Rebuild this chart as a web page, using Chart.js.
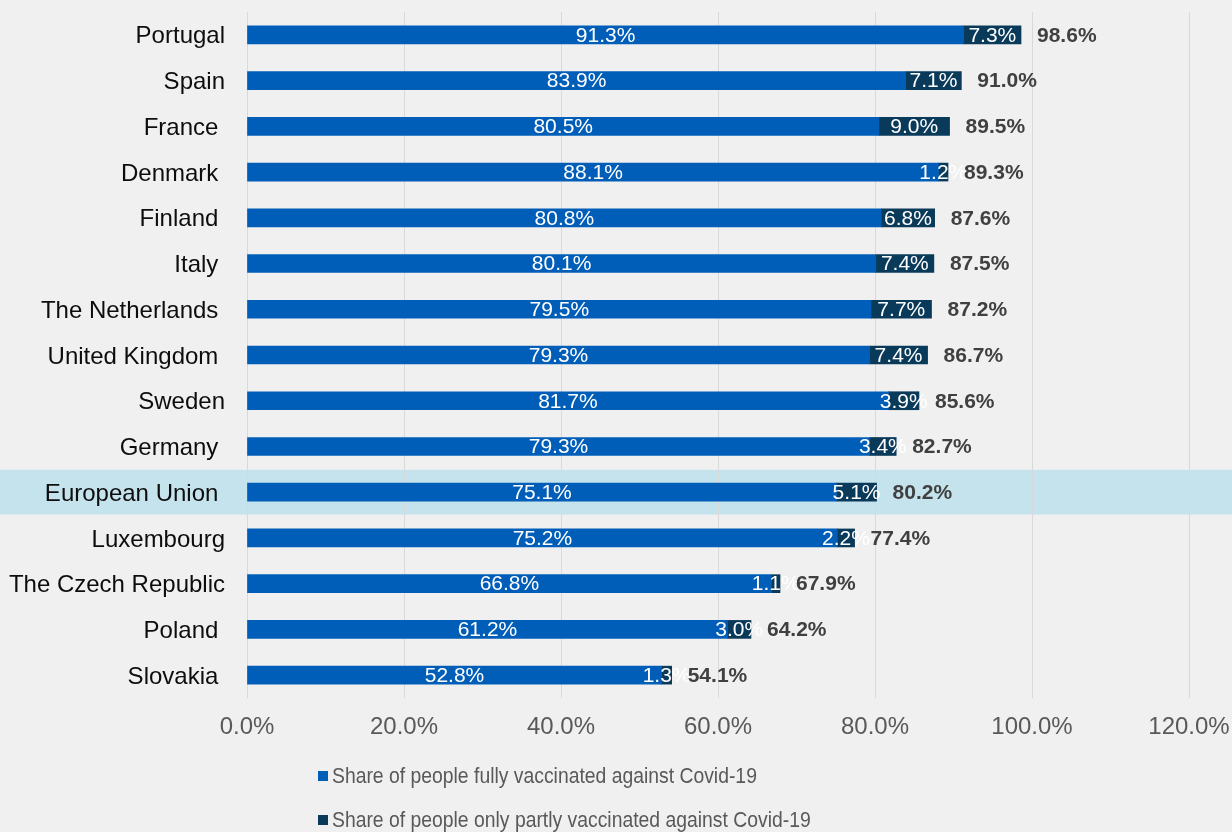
<!DOCTYPE html>
<html lang="en">
<head>
    <meta charset="UTF-8">
    <title>Covid-19 vaccination share</title>
    <script src="https://cdn.jsdelivr.net/npm/chart.js"></script>
    <style>
        body { margin: 0; padding: 0; background: #f0f0f0; }
        #wrap { width: 1232px; height: 832px; }
    </style>
</head>
<body>
    <div id="wrap"><canvas id="chart" width="1232" height="832"></canvas></div>

    <script>
        // countries (a trailing space keeps the original label spacing)
        const countries = ['Portugal', 'Spain', 'France ', 'Denmark ', 'Finland ', 'Italy ', 'The Netherlands ',
            'United Kingdom ', 'Sweden', 'Germany ', 'European Union ', 'Luxembourg', 'The Czech Republic', 'Poland ', 'Slovakia '];
        const fullyVaccinated = [91.3, 83.9, 80.5, 88.1, 80.8, 80.1, 79.5, 79.3, 81.7, 79.3, 75.1, 75.2, 66.8, 61.2, 52.8];
        const partlyVaccinated = [7.3, 7.1, 9.0, 1.2, 6.8, 7.4, 7.7, 7.4, 3.9, 3.4, 5.1, 2.2, 1.1, 3.0, 1.3];
        const xTicks = [0, 20, 40, 60, 80, 100, 120];
        const highlighted = 'European Union ';

        const seriesNames = ['Share of people fully vaccinated against Covid-19',
            'Share of people only partly vaccinated against Covid-19'];
        const colorFull = '#005eb8';
        const colorPartly = '#0a3a5a';

        const pct = v => v.toFixed(1) + '%';

        // background + highlight band, painted before grid lines
        const backdrop = {
            id: 'backdrop',
            beforeDraw(chart) {
                const ctx = chart.ctx;
                ctx.save();
                ctx.fillStyle = '#f0f0f0';
                ctx.fillRect(0, 0, chart.width, chart.height);
                const y = chart.scales.y;
                const i = countries.indexOf(highlighted);
                const cy = y.getPixelForValue(i);
                const band = y.height / countries.length;
                ctx.fillStyle = '#c5e3ed';
                ctx.fillRect(0, cy - band / 2 + 0.5, chart.width, band - 1);
                ctx.restore();
            }
        };

        // value labels inside segments and totals after the bars
        const barLabels = {
            id: 'barLabels',
            afterDatasetsDraw(chart) {
                const ctx = chart.ctx;
                ctx.save();
                ctx.textBaseline = 'middle';
                chart.data.datasets.forEach((ds, di) => {
                    const meta = chart.getDatasetMeta(di);
                    ctx.font = '21px "Liberation Sans", Arial, sans-serif';
                    ctx.fillStyle = '#ffffff';
                    ctx.textAlign = 'center';
                    meta.data.forEach((bar, i) => {
                        ctx.fillText(pct(ds.data[i]), (bar.x + bar.base) / 2, bar.y + 1);
                    });
                });
                const last = chart.getDatasetMeta(chart.data.datasets.length - 1);
                ctx.font = 'bold 21px "Liberation Sans", Arial, sans-serif';
                ctx.fillStyle = '#404040';
                ctx.textAlign = 'left';
                last.data.forEach((bar, i) => {
                    const total = fullyVaccinated[i] + partlyVaccinated[i];
                    ctx.fillText(pct(total), bar.x + 16, bar.y + 1);
                });
                ctx.restore();
            }
        };

        // two-row legend under the axis
        const stackedLegend = {
            id: 'stackedLegend',
            afterDraw(chart) {
                const ctx = chart.ctx;
                ctx.save();
                ctx.textBaseline = 'middle';
                ctx.textAlign = 'left';
                chart.data.datasets.forEach((ds, i) => {
                    const cy = 776 + i * 44;
                    ctx.fillStyle = ds.backgroundColor;
                    ctx.fillRect(318, cy - 5, 10, 10);
                    ctx.save();
                    ctx.translate(332, cy);
                    ctx.scale(0.86, 1);
                    ctx.font = '22.5px "Liberation Sans", Arial, sans-serif';
                    ctx.fillStyle = '#595959';
                    ctx.fillText(ds.label, 0, 1);
                    ctx.restore();
                });
                ctx.restore();
            }
        };

        new Chart(document.getElementById('chart').getContext('2d'), {
            type: 'bar',
            data: {
                labels: countries,
                datasets: [
                    { label: seriesNames[0], data: fullyVaccinated, backgroundColor: colorFull, barThickness: 18 },
                    { label: seriesNames[1], data: partlyVaccinated, backgroundColor: colorPartly, barThickness: 18 }
                ]
            },
            options: {
                indexAxis: 'y',
                responsive: false,
                animation: false,
                layout: { padding: { top: 12, right: 43, bottom: 94, left: 0 } },
                plugins: {
                    legend: { display: false },
                    tooltip: { enabled: false }
                },
                scales: {
                    x: {
                        stacked: true,
                        min: 0,
                        max: 120,
                        afterBuildTicks: s => { s.ticks = xTicks.map(v => ({ value: v })); },
                        afterFit: s => {
                            s.height = 40;
                            s.paddingLeft = 0;
                            s.paddingRight = 0;
                        },
                        grid: { color: '#d9d9d9', lineWidth: 1, drawTicks: false },
                        border: { display: false },
                        ticks: {
                            padding: 15,
                            color: '#595959',
                            font: { family: '"Liberation Sans", Arial, sans-serif', size: 24 },
                            callback: v => pct(v)
                        }
                    },
                    y: {
                        stacked: true,
                        afterFit: s => {
                            s.width = 247;
                            s.paddingTop = 0;
                            s.paddingBottom = 0;
                        },
                        grid: { display: false, drawTicks: false },
                        border: { display: false },
                        ticks: {
                            padding: 22,
                            labelOffset: 2,
                            color: '#0d0d0d',
                            font: { family: '"Liberation Sans", Arial, sans-serif', size: 24 }
                        }
                    }
                }
            },
            plugins: [backdrop, barLabels, stackedLegend]
        });
    </script>
</body>
</html>
